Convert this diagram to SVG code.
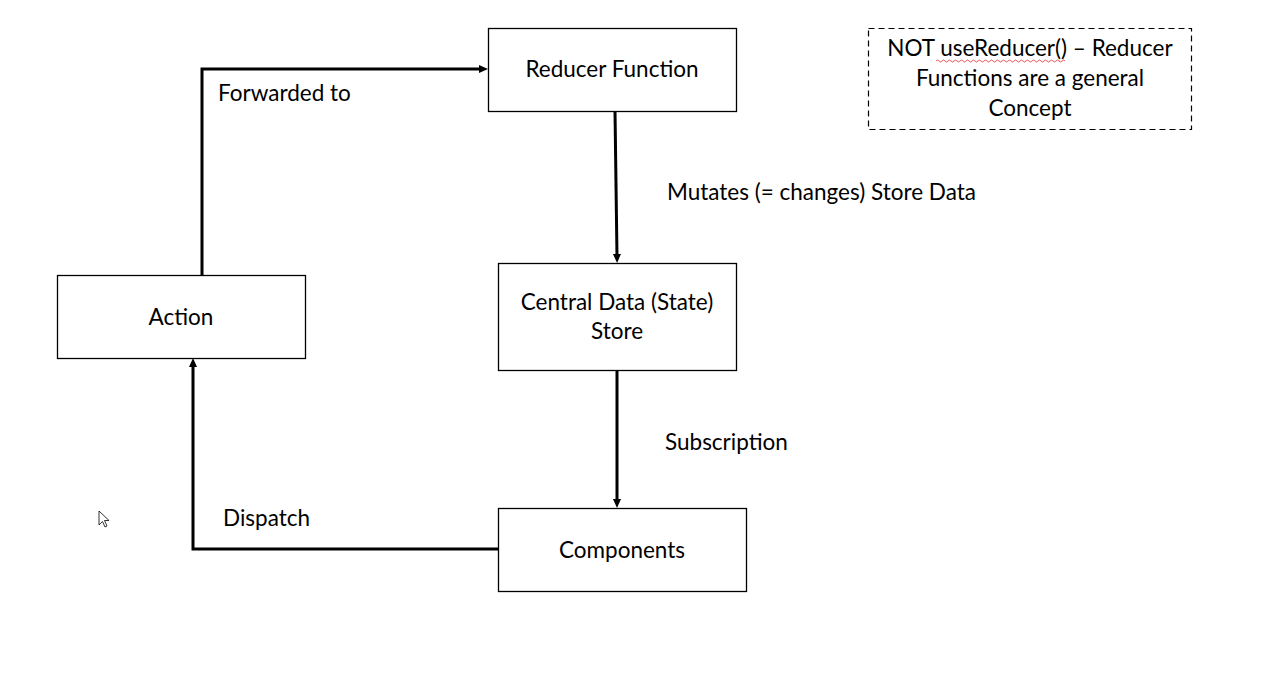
<svg xmlns="http://www.w3.org/2000/svg" width="1267" height="680" viewBox="0 0 1267 680">
<style>
.box{fill:#fff;stroke:#000;stroke-width:1.3}
.note{fill:#fff;stroke:#000;stroke-width:1.2;stroke-dasharray:6 4}
.t{font-family:"Lato","Liberation Sans",sans-serif;font-size:22.5px;fill:#000}
.c{text-anchor:middle}
.conn{fill:none;stroke:#000;stroke-width:3}
</style>
<defs>
<marker id="ah" markerUnits="userSpaceOnUse" markerWidth="10" markerHeight="10" refX="3" refY="5" orient="auto">
<path d="M0,1 L9,5 L0,9 Z" fill="#000"/>
</marker>
</defs>
<rect width="1267" height="680" fill="#fff"/>
<g id="connectors">
<polyline class="conn" points="202,275 202,69 482,69" marker-end="url(#ah)"/>
<line class="conn" x1="615" y1="111" x2="617" y2="257" marker-end="url(#ah)"/>
<line class="conn" x1="617" y1="370" x2="617" y2="502" marker-end="url(#ah)"/>
<polyline class="conn" points="498,549 193,549 193,364" marker-end="url(#ah)"/>
<text class="t" x="218" y="101">Forwarded to</text>
<text class="t" x="667" y="200">Mutates (= changes) Store Data</text>
<text class="t" x="665" y="450">Subscription</text>
<text class="t" x="223" y="526">Dispatch</text>
</g>
<g id="reducer">
<rect class="box" x="488.5" y="28.5" width="248" height="83"/>
<text class="t c" x="612" y="77">Reducer Function</text>
</g>
<g id="store">
<rect class="box" x="498.5" y="263.5" width="238" height="107"/>
<text class="t c" x="617" y="310">Central Data (State)</text>
<text class="t c" x="617" y="339">Store</text>
</g>
<g id="action">
<rect class="box" x="57.5" y="275.5" width="248" height="83"/>
<text class="t c" x="181" y="325">Action</text>
</g>
<g id="components">
<rect class="box" x="498.5" y="508.5" width="248" height="83"/>
<text class="t c" x="622" y="558">Components</text>
</g>
<g id="note">
<rect class="note" x="868.5" y="28.5" width="323" height="101"/>
<text class="t c" x="1030" y="56">NOT useReducer() – Reducer</text>
<text class="t c" x="1030" y="86">Functions are a general</text>
<text class="t c" x="1030" y="116">Concept</text>
<path d="M936,61 q1.5,-2 3,0 t3,0 t3,0 t3,0 t3,0 t3,0 t3,0 t3,0 t3,0 t3,0 t3,0 t3,0 t3,0 t3,0 t3,0 t3,0 t3,0 t3,0 t3,0 t3,0 t3,0 t3,0 t3,0 t3,0 t3,0 t3,0 t3,0 t3,0 t3,0 t3,0 t3,0 t3,0 t3,0 t3,0 t3,0 t3,0 t3,0 t3,0 t3,0 t3,0 t3,0 t3,0 t3,0" fill="none" stroke="#e03030" stroke-width="0.8"/>
</g>
<path d="M99,511 L99,525 L102.5,521.5 L105,527 L107,526 L104.5,520.5 L109,520.5 Z" fill="#fff" stroke="#000" stroke-width="0.8"/>
</svg>
